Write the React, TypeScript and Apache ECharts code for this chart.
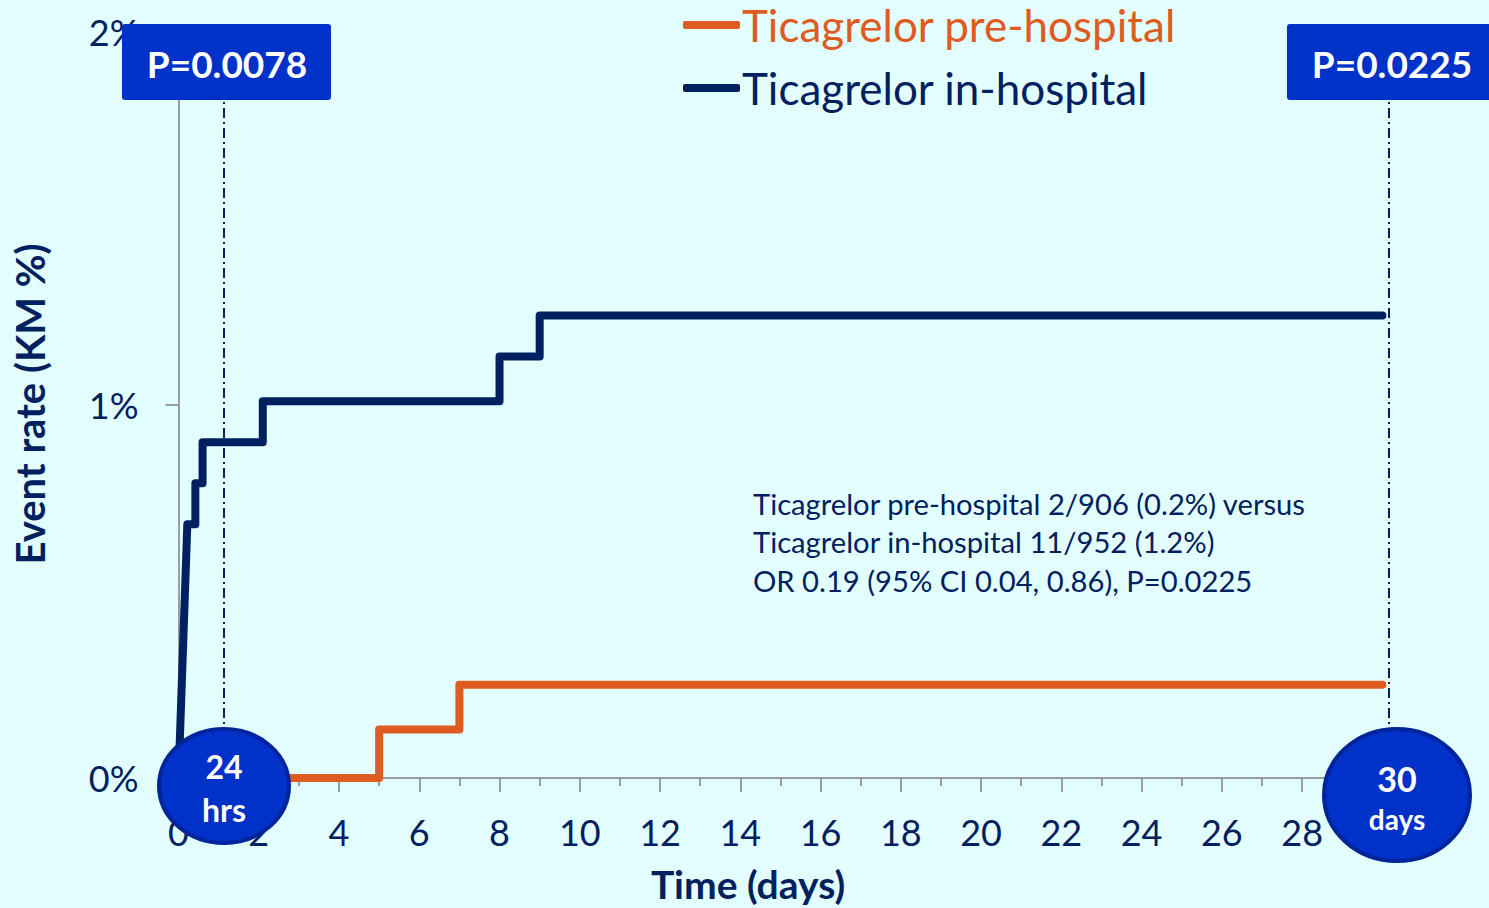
import React, { useEffect, useRef } from 'react';
import * as echarts from 'echarts';

const seriesNames = ['Ticagrelor pre-hospital', 'Ticagrelor in-hospital'];
const preHospitalDays = [0, 5, 5, 7, 7, 30];
const preHospitalRate = [0, 0, 0.13, 0.13, 0.25, 0.25];
const inHospitalDays = [0, 0.22, 0.42, 0.42, 0.6, 0.6, 2.1, 2.1, 8, 8, 9, 9, 30];
const inHospitalRate = [0, 0.68, 0.68, 0.79, 0.79, 0.9, 0.9, 1.01, 1.01, 1.13, 1.13, 1.24, 1.24];
const markerDays = [1.13, 30.15];
const pValueLabels = ['P=0.0078', 'P=0.0225'];
const summaryLines = [
  'Ticagrelor pre-hospital 2/906 (0.2%) versus',
  'Ticagrelor in-hospital 11/952 (1.2%)',
  'OR 0.19 (95% CI 0.04, 0.86), P=0.0225',
];
const xAxisTitle = 'Time (days)';
const yAxisTitle = 'Event rate (KM %)';

const ORANGE = '#DE5B21';
const NAVY = '#002060';
const BOX = '#0031C9';
const BOX_STROKE = '#00249A';
const AXIS = '#9A9AA8';
const BG = '#E3FEFE';
const FONT = 'Lato, "Open Sans", sans-serif';

export default function App() {
  const ref = useRef<HTMLDivElement>(null);
  useEffect(() => {
    document.body.style.margin = '0';
    const chart = echarts.init(ref.current!, null, { renderer: 'svg' });
    const toPairs = (xs: number[], ys: number[]) => xs.map((x, i) => [x, ys[i]]);
    const lineBase = {
      type: 'line',
      showSymbol: false,
      symbol: 'none',
      clip: false,
      z: 5,
    };
    const whiteText = (text: string, x: number, y: number, size: number) => ({
      type: 'text',
      z: 101,
      x,
      y,
      style: {
        text,
        fill: '#FFFFFF',
        fontFamily: FONT,
        fontWeight: 'bold',
        fontSize: size,
        align: 'center',
        verticalAlign: 'middle',
      },
    });
    const option: any = {
      animation: false,
      backgroundColor: BG,
      grid: { left: 178.5, right: 100.6, top: 32, bottom: 130 },
      legend: {
        orient: 'vertical',
        left: 678,
        top: -3,
        itemWidth: 57,
        itemHeight: 8,
        itemGap: 17,
        icon: 'roundRect',
        data: [
          { name: seriesNames[0], textStyle: { color: ORANGE } },
          { name: seriesNames[1], textStyle: { color: NAVY } },
        ],
        textStyle: { fontFamily: FONT, fontSize: 44, lineHeight: 46, padding: [0, 0, 0, -3] },
      },
      xAxis: {
        type: 'value',
        min: 0,
        max: 30.15,
        interval: 2,
        splitLine: { show: false },
        axisLine: { lineStyle: { color: AXIS, width: 2 } },
        axisTick: { length: 14, lineStyle: { color: AXIS, width: 2 } },
        minorTick: { show: true, splitNumber: 2, length: 8, lineStyle: { color: AXIS, width: 2 } },
        axisLabel: {
          color: NAVY,
          fontFamily: FONT,
          fontSize: 36,
          margin: 36,
          formatter: (v: number) => (v >= 30 ? '' : String(v)),
        },
      },
      yAxis: {
        type: 'value',
        min: 0,
        max: 2,
        interval: 1,
        splitLine: { show: false },
        axisLine: { show: true, lineStyle: { color: AXIS, width: 2 } },
        axisTick: { show: true, length: 13, lineStyle: { color: AXIS, width: 2 } },
        axisLabel: {
          color: NAVY,
          fontFamily: FONT,
          fontSize: 36,
          margin: 40,
          formatter: (v: number) => v + '%',
        },
      },
      series: [
        {
          ...lineBase,
          name: seriesNames[0],
          data: toPairs(preHospitalDays, preHospitalRate),
          color: ORANGE,
          lineStyle: { color: ORANGE, width: 8, cap: 'round', join: 'round' },
        },
        {
          ...lineBase,
          name: seriesNames[1],
          data: toPairs(inHospitalDays, inHospitalRate),
          color: NAVY,
          lineStyle: { color: NAVY, width: 8, cap: 'round', join: 'round' },
          markLine: {
            silent: true,
            symbol: 'none',
            label: { show: false },
            z: 3,
            lineStyle: { color: NAVY, width: 2, type: [10, 4, 2, 4] },
            data: markerDays.map((d) => ({ xAxis: d })),
          },
        },
      ],
      graphic: [
        // P value boxes
        {
          type: 'rect',
          z: 100,
          shape: { x: 122, y: 24, width: 209, height: 76, r: 3 },
          style: { fill: BOX },
        },
        whiteText(pValueLabels[0], 227, 63, 37),
        {
          type: 'rect',
          z: 100,
          shape: { x: 1287, y: 24, width: 215, height: 76, r: 3 },
          style: { fill: BOX },
        },
        whiteText(pValueLabels[1], 1392, 63, 37),
        // marker circles
        {
          type: 'ellipse',
          z: 100,
          shape: { cx: 224, cy: 786, rx: 65, ry: 57 },
          style: { fill: BOX, stroke: BOX_STROKE, lineWidth: 4 },
        },
        whiteText('24', 224, 766, 32),
        whiteText('hrs', 224, 809, 32),
        {
          type: 'ellipse',
          z: 100,
          shape: { cx: 1397, cy: 795, rx: 73, ry: 66 },
          style: { fill: BOX, stroke: BOX_STROKE, lineWidth: 4 },
        },
        whiteText('30', 1397, 778, 34),
        whiteText('days', 1397, 819, 28),
        // summary text
        ...summaryLines.map((t, i) => ({
          type: 'text',
          z: 50,
          x: 753,
          y: 503 + i * 38.5,
          style: { text: t, fill: NAVY, fontFamily: FONT, fontSize: 29.2, align: 'left', verticalAlign: 'middle' },
        })),
        // axis titles
        {
          type: 'text',
          z: 50,
          x: 748,
          y: 884,
          style: { text: xAxisTitle, fill: NAVY, fontFamily: FONT, fontWeight: 'bold', fontSize: 39, align: 'center', verticalAlign: 'middle' },
        },
        {
          type: 'text',
          z: 50,
          x: 30,
          y: 404,
          rotation: Math.PI / 2,
          style: { text: yAxisTitle, fill: NAVY, fontFamily: FONT, fontWeight: 'bold', fontSize: 40, align: 'center', verticalAlign: 'middle' },
        },
      ],
    };
    chart.setOption(option);
    return () => chart.dispose();
  }, []);
  return (
    <div
      ref={ref}
      style={{ position: 'fixed', left: 0, top: 0, width: 1489, height: 908, background: BG }}
    />
  );
}
